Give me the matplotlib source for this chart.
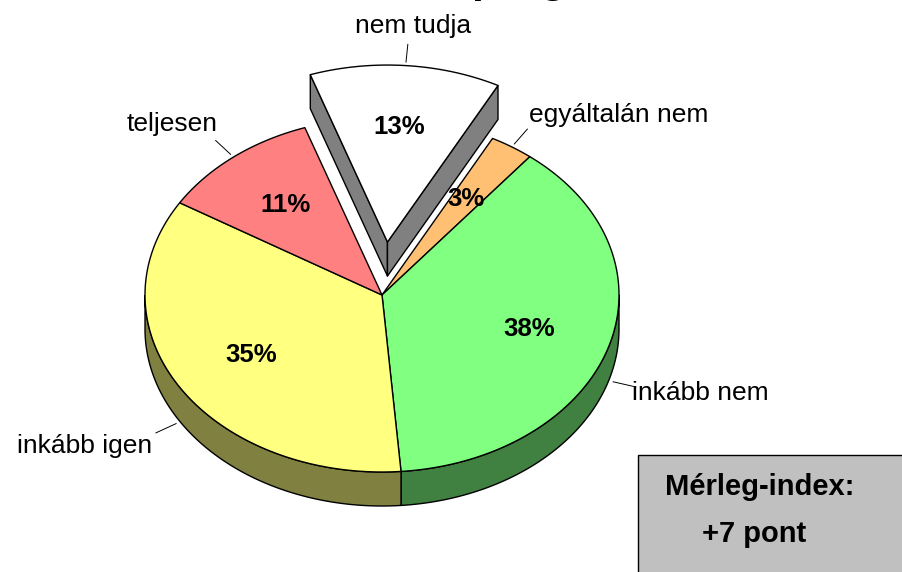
"""
3D-style exploded pie, Excel look: answer shares plus the balance index box.
"""
import numpy as np
import matplotlib.pyplot as plt
from matplotlib.patches import Polygon, Rectangle

plt.rcParams["font.family"] = ["Liberation Sans", "DejaVu Sans"]

# --- data -------------------------------------------------------------------
categories = ["nem tudja", "egyáltalán nem", "inkább nem", "inkább igen", "teljesen"]
shares     = [13, 3, 38, 35, 11]
pct_labels = ["13%", "3%", "38%", "35%", "11%"]
exploded   = [True, False, False, False, False]
top_colors = ["#FFFFFF", "#FFC073", "#80FF80", "#FFFF80", "#FF8080"]
side_colors = ["#808080", "#806039", "#408040", "#808040", "#804040"]
title_text = "program"
index_lines = ["Mérleg-index:", "+7 pont"]

# --- geometry (pixel space, y grows downward) -------------------------------
W, H = 902, 572
CX, CY = 382, 295        # centre of the top ellipse
RX, RY = 237, 177        # ellipse radii
DEPTH = 34               # thickness of the pie
EXPLODE = 0.30           # radial offset of exploded slice (fraction of radius)
START = 109.0            # degrees, slices run clockwise from here
LEAD_IN, LEAD_OUT = 1.02, 1.12
# label placement next to the outer end of each leader line
label_align = [("center", "bottom", 5, -6), ("left", "bottom", 2, -2),
               ("left", "center", -4, 6), ("right", "top", -4, 1),
               ("right", "bottom", 2, -5)]

EDGE = dict(edgecolor="black", linewidth=1.0, joinstyle="round")


def pt(t, c, r=1.0, dz=0.0):
    return c[0] + RX * r * np.cos(t), c[1] - RY * r * np.sin(t) + dz


def arc(t1, t2, c, dz=0.0, n=120):
    ts = np.linspace(t1, t2, n)
    return np.column_stack(pt(ts, c, 1.0, dz))


fig = plt.figure(figsize=(W / 100, H / 100), dpi=100)
ax = fig.add_axes([0, 0, 1, 1])
ax.set_xlim(0, W)
ax.set_ylim(H, 0)
ax.axis("off")

# slice angles
spans = np.radians(np.array(shares) * 3.6)
t_start = np.radians(START) - np.concatenate([[0], np.cumsum(spans)[:-1]])
t_end = t_start - spans
centres = []
for i, (a, b) in enumerate(zip(t_start, t_end)):
    mid = (a + b) / 2
    off = EXPLODE if exploded[i] else 0.0
    centres.append((CX + RX * off * np.cos(mid), CY - RY * off * np.sin(mid)))


def draw_walls(i, z):
    c = centres[i]
    a, b = t_start[i], t_end[i]
    # outer curved wall, only where it faces the viewer (sin < 0)
    ts = np.linspace(b, a, 400)
    vis = np.sin(ts) < 0
    runs = np.split(ts, np.where(np.diff(vis.astype(int)) != 0)[0] + 1)
    for run in runs:
        if len(run) < 2 or np.sin(run.mean()) >= 0:
            continue
        top = np.column_stack(pt(run, c))
        bot = np.column_stack(pt(run, c, 1.0, DEPTH))[::-1]
        ax.add_patch(Polygon(np.vstack([top, bot]), closed=True,
                             facecolor=side_colors[i], zorder=z, **EDGE))
    # radial walls are only visible for the exploded slice
    if exploded[i]:
        for t in (a, b):
            p = pt(t, c)
            quad = [c, p, (p[0], p[1] + DEPTH), (c[0], c[1] + DEPTH)]
            ax.add_patch(Polygon(quad, closed=True, facecolor=side_colors[i],
                                 zorder=z, **EDGE))


def draw_top(i, z):
    c = centres[i]
    poly = np.vstack([[c], arc(t_start[i], t_end[i], c)])
    ax.add_patch(Polygon(poly, closed=True, facecolor=top_colors[i],
                         zorder=z, **EDGE))


order_back = [i for i in range(len(shares)) if exploded[i]]
order_main = [i for i in range(len(shares)) if not exploded[i]]
for i in order_back:
    draw_walls(i, 1)
    draw_top(i, 2)
for i in order_main:
    draw_walls(i, 3)
for i in order_main:
    draw_top(i, 4)

# labels
for i, name in enumerate(categories):
    c = centres[i]
    mid = (t_start[i] + t_end[i]) / 2
    dz = DEPTH if np.sin(mid) < 0 else 0.0
    x_in, y_in = pt(mid, c, 0.65)
    ax.text(x_in, y_in, pct_labels[i], ha="center", va="center",
            fontsize=18.5, fontweight="bold", zorder=6)
    x0, y0 = pt(mid, c, LEAD_IN, dz)
    x1, y1 = pt(mid, c, LEAD_OUT, dz)
    ax.plot([x0, x1], [y0, y1], color="black", lw=0.7, zorder=5)
    ha, va, dx, dy = label_align[i]
    ax.text(x1 + dx, y1 + dy, name, ha=ha, va=va, fontsize=19, zorder=6)

# title (cut off at the top edge in the original)
ax.text(471, -8, title_text, ha="left", va="baseline", fontsize=31,
        fontweight="bold", clip_on=False)

# balance index box
ax.add_patch(Rectangle((638, 455), 400, 200, facecolor="#C0C0C0",
                       edgecolor="black", linewidth=1.0, zorder=5))
ax.text(760, 495, index_lines[0], ha="center", va="baseline", fontsize=21,
        fontweight="bold", zorder=6)
ax.text(754, 542, index_lines[1], ha="center", va="baseline", fontsize=21,
        fontweight="bold", zorder=6)

fig.savefig("out.png", dpi=100)
